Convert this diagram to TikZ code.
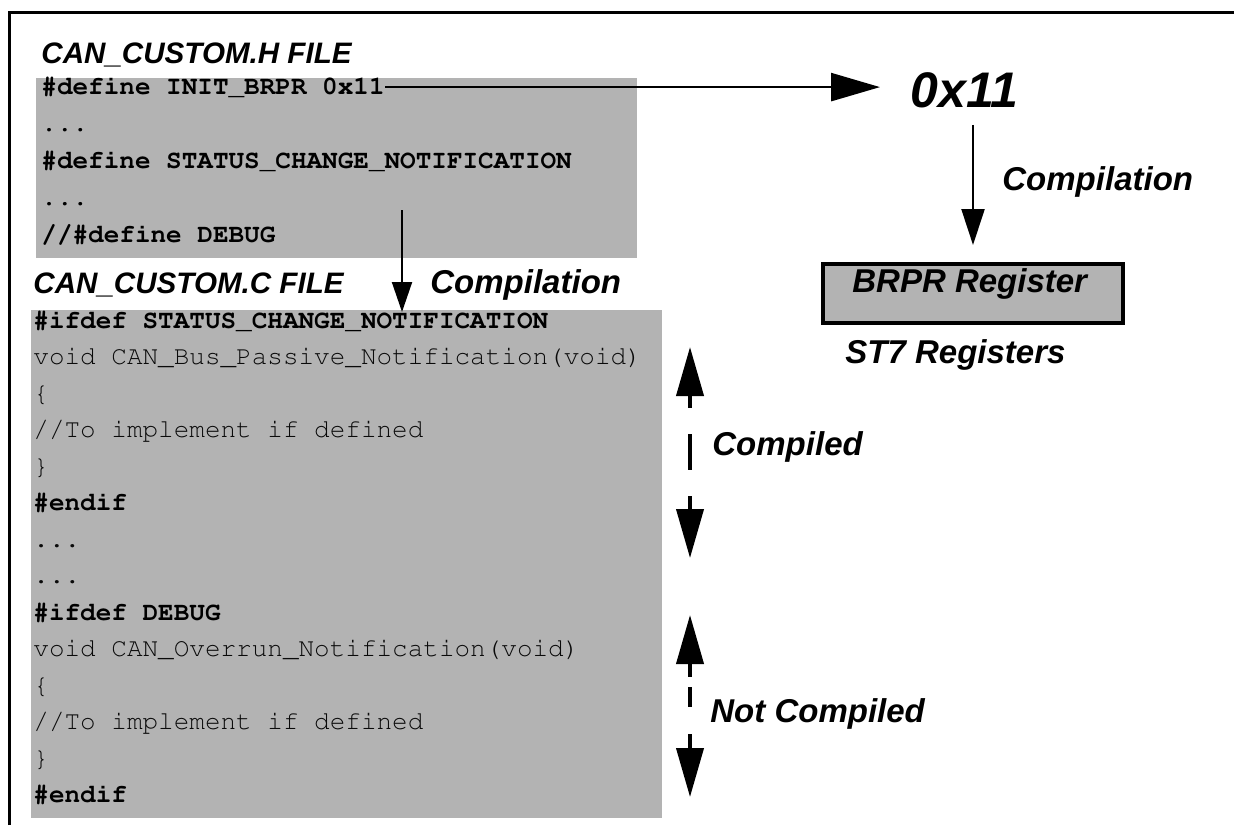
\documentclass[tikz,border=0pt]{standalone}
\usepackage[T1]{fontenc}
\usepackage{fontspec}
\setmainfont{Liberation Sans}
\usetikzlibrary{arrows.meta}
\newcommand\cdreg{\fontencoding{T1}\fontfamily{pcr}\fontseries{m}\fontshape{n}\fontsize{13pt}{15pt}\selectfont}
\newcommand\cdbold{\fontencoding{T1}\fontfamily{pcr}\fontseries{b}\fontshape{n}\fontsize{13pt}{15pt}\selectfont}
\definecolor{boxgray}{HTML}{B3B3B3}
\definecolor{codegray}{HTML}{0A0A0A}
\begin{document}
\begin{tikzpicture}[x=0.5pt,y=-0.5pt,
  lbl/.style={font=\bfseries\itshape\fontsize{16.5pt}{18pt}\selectfont, inner sep=0, anchor=base west},
  hdr/.style={font=\bfseries\itshape\fontsize{14.8pt}{16pt}\selectfont, inner sep=0, anchor=base west},
  big/.style={font=\bfseries\itshape\fontsize{25pt}{27pt}\selectfont, inner sep=0, anchor=base west},
  codeb/.style={font=\cdbold, inner sep=0, anchor=base west, text=black},
  coder/.style={font=\cdreg, inner sep=0, anchor=base west, text=codegray},
  filebox/.style={fill=boxgray, inner sep=0, anchor=north west},
  regbox/.style={fill=boxgray, draw=black, line width=2pt, inner sep=0, anchor=north west},
  harrow/.style={line width=1.3pt, -{Triangle[length=24.5pt,width=14pt]}},
  varrow/.style={line width=1.1pt, -{Triangle[length=18pt,width=11.5pt]}},
  carrow/.style={line width=1pt, -{Triangle[length=15pt,width=10pt]}},
  darrow/.style={line width=2pt, {Triangle[length=24.5pt,width=13.5pt]}-{Triangle[length=24.5pt,width=13.5pt]}},
  frame/.style={line width=1.5pt}
]
\useasboundingbox (0,0) rectangle (1234,825);

% frame
\coordinate (fbl) at (9,825);
\coordinate (ftl) at (9,12);
\coordinate (ftr) at (1234,12);
\draw[frame] (fbl) -- (ftl) -- (ftr);

% H file
\node[hdr] (hhdr) at (41,63) {CAN\_CUSTOM.H FILE};
\node[filebox, minimum width=300.5pt, minimum height=90pt] (hbox) at (36,78) {};
\node[codeb] (h1) at (41,94) {\#define INIT\_BRPR 0x11};
\node[codeb] (h2) at (41,131) {...};
\node[codeb] (h3) at (41,168) {\#define STATUS\_CHANGE\_NOTIFICATION};
\node[codeb] (h4) at (41,205) {...};
\node[codeb] (h5) at (41,242) {//\#define DEBUG};

% C file
\node[hdr] (chdr) at (33,293) {CAN\_CUSTOM.C FILE};
\node[lbl] (comp1) at (430,293) {Compilation};
\node[filebox, minimum width=315.5pt, minimum height=254pt] (cbox) at (31,310) {};
\node[codeb] (c1) at (33,328) {\#ifdef STATUS\_CHANGE\_NOTIFICATION};
\node[coder] (c2) at (33,364.5) {void CAN\_Bus\_Passive\_Notification(void)};
\node[coder] (c3) at (33,401) {\{};
\node[coder] (c4) at (33,437.5) {//To implement if defined};
\node[coder] (c5) at (33,474) {\}};
\node[codeb] (c6) at (33,510.5) {\#endif};
\node[coder] (c7) at (33,547) {...};
\node[coder] (c8) at (33,583.5) {...};
\node[codeb] (c9) at (33,620) {\#ifdef DEBUG};
\node[coder] (c10) at (33,656.5) {void CAN\_Overrun\_Notification(void)};
\node[coder] (c11) at (33,693) {\{};
\node[coder] (c12) at (33,729.5) {//To implement if defined};
\node[coder] (c13) at (33,766) {\}};
\node[codeb] (c14) at (33,802.5) {\#endif};

% register side
\node[big] (x11) at (910,107) {0x11};
\node[lbl] (comp2) at (1002,190) {Compilation};
\node[regbox, minimum width=150pt, minimum height=29.5pt] (brpr) at (821,262) {};
\node[lbl] (brprl) at (852,292) {BRPR Register};
\node[lbl] (st7) at (845,363) {ST7 Registers};

% arrows
\draw[harrow, shorten >=15pt] (h1.east) -- (h1.east -| x11.west);
\draw[varrow, shorten <=8.5pt, shorten >=8.5pt] (x11.south -| brpr.north) -- (brpr.north);
\coordinate (hcs) at (402,210);
\draw[carrow, shorten >=-1pt] (hcs) -- (hcs |- cbox.north);

% compiled / not compiled
\node[lbl] (compiled) at (712,455) {Compiled};
\node[lbl] (notcomp) at (710,722) {Not Compiled};
\coordinate (d1a) at (690,347);
\coordinate (d1b) at (690,558);
\coordinate (d2a) at (690,615);
\coordinate (d2b) at (690,797);
\draw[darrow, dash pattern=on 6.5pt off 13pt on 18pt off 13pt on 12pt] (d1a) -- (d1b);
\draw[darrow, dash pattern=on 7pt off 5pt on 10pt off 13.5pt on 12pt] (d2a) -- (d2b);
\end{tikzpicture}
\end{document}
